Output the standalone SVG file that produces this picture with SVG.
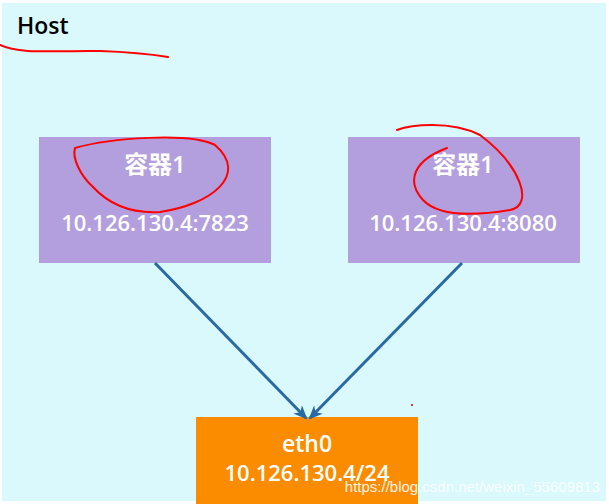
<svg xmlns="http://www.w3.org/2000/svg" width="609" height="504" viewBox="0 0 609 504">
<style>
.bg{fill:#d9f9fc}
.box{fill:#b39fdd}
.w{fill:#fff;font-family:"Open Sans","DejaVu Sans","Noto Sans CJK SC",sans-serif;text-anchor:middle;font-weight:600}
.red{fill:none;stroke:#f00;stroke-width:2;stroke-linecap:round}
.conn{stroke:#2a6aa3;stroke-width:3;fill:none}
</style>
<defs>
<marker id="ah" markerWidth="14" markerHeight="12" refX="12" refY="6" orient="auto" markerUnits="userSpaceOnUse" viewBox="0 0 14 12"><path d="M0,0 L14,6 L0,12 L4,6 Z" fill="#2a6aa3"/></marker>
</defs>
<rect width="609" height="504" fill="#fff"/>
<rect x="2" y="3" width="604" height="498" class="bg"/>
<text x="17" y="34" font-family="Open Sans, DejaVu Sans, sans-serif" font-size="23" font-weight="600" fill="#000">Host</text>
<path class="red" d="M0,45 C20,55 60,50 100,51 C130,52 150,54 168,57"/>
<g id="c1">
<rect x="39" y="137" width="232" height="126" class="box"/>
<text x="155" y="173" class="w" font-size="24">容器1</text>
<text x="155" y="231" class="w" font-size="22">10.126.130.4:7823</text>
<path class="red" d="M75,148 C110,138 190,132 215,145 C250,175 210,205 160,212 C125,214 105,200 93,187 C80,175 72,158 75,148"/>
</g>
<g id="c2">
<rect x="348" y="137" width="232" height="126" class="box"/>
<text x="463" y="173" class="w" font-size="24">容器1</text>
<text x="463" y="231" class="w" font-size="22">10.126.130.4:8080</text>
<path class="red" d="M397,130 C410,125 450,120 480,135 C520,165 535,205 510,210 C480,215 440,218 423,200 C405,180 415,160 447,148"/>
</g>
<g id="eth0">
<rect x="196" y="417" width="222" height="87" fill="#fb8c00"/>
<text x="307" y="452" class="w" font-size="23">eth0</text>
<text x="307" y="481" class="w" font-size="22">10.126.130.4/24</text>
</g>
<g id="connectors">
<line x1="155" y1="263" x2="306" y2="418" class="conn" marker-end="url(#ah)"/>
<line x1="462" y1="263" x2="310" y2="418" class="conn" marker-end="url(#ah)"/>
</g>
<circle cx="412" cy="405" r="1" fill="#c00"/>
<text x="600" y="492" font-family="Liberation Sans, Arial, sans-serif" font-size="15" fill="#fff" text-anchor="end" opacity="0.9">https://blog.csdn.net/weixin_55609813</text>
</svg>
